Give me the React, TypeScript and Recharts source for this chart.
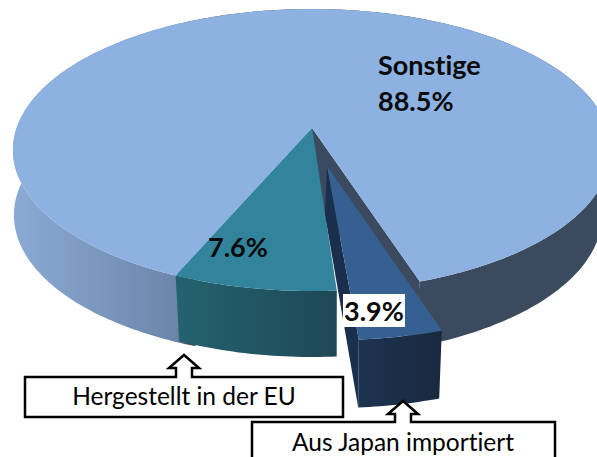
import React from 'react';
import { PieChart, Pie } from 'recharts';

const names = ['Sonstige', 'Hergestellt in der EU', 'Aus Japan importiert'];
const shares = [88.5, 7.6, 3.9];
const sliceLabels = ['88.5%', '7.6%', '3.9%'];

const data = names.map((name, i) => ({ name, value: shares[i] }));

// ellipse of the top and bottom face, with the perspective that pushes the apex back
const PERSPECTIVE = 0.156;
const TOP = { ax: 312, ay: 128, bx: 295.4, by: 137.6 };
const BOTTOM = { ax: 310, ay: 193, bx: 288.5, by: 138.4 };
const BOTTOM_WIDE = { ax: 308, ay: 193, bx: 290.5, by: 138.4 };

type Ring = typeof TOP;

const project = (deg: number, ring: Ring, dx = 0, dy = 0): [number, number] => {
  const rad = (deg * Math.PI) / 180;
  const c = Math.cos(rad);
  const s = -Math.sin(rad);
  const den = 1 - PERSPECTIVE * s;
  return [ring.ax + dx + (ring.bx * c) / den, ring.ay + dy + (ring.by * s) / den];
};

const arc = (from: number, to: number, ring: Ring, dx = 0, dy = 0) => {
  const pts: [number, number][] = [];
  const steps = Math.max(2, Math.ceil(Math.abs(to - from)));
  for (let i = 0; i <= steps; i++) {
    pts.push(project(from + ((to - from) * i) / steps, ring, dx, dy));
  }
  return pts;
};

const toPath = (pts: [number, number][]) =>
  'M' + pts.map(p => `${p[0].toFixed(1)},${p[1].toFixed(1)}`).join('L') + 'Z';

const Slice3D = (props: any) => {
  const { startAngle, endAngle, name } = props;
  if (name === 'Sonstige') {
    const rimTop = arc(startAngle, endAngle, TOP);
    // the wall runs a little under the teal slice so no gap shows at the joint
    const rimBottom = arc(endAngle + 4, startAngle, BOTTOM_WIDE);
    const cutTop = project(startAngle, TOP);
    const cutBottom = project(startAngle, BOTTOM);
    return (
      <g>
        <path d={toPath([...rimTop, project(endAngle + 4, TOP), ...rimBottom])} fill="url(#sideBig)" />
        <path d={toPath([[TOP.ax, TOP.ay], cutTop, cutBottom, [BOTTOM.ax, BOTTOM.ay]])} fill="#3b4a5e" />
        <path d={toPath([[TOP.ax, TOP.ay], ...rimTop])} fill="#8db1e1" />
      </g>
    );
  }
  if (name === 'Hergestellt in der EU') {
    const rimTop = arc(startAngle, endAngle, TOP);
    const rimBottom = arc(endAngle, startAngle, BOTTOM, 2.5, 0);
    return (
      <g>
        <path d={toPath([...rimTop, ...rimBottom])} fill="url(#sideTeal)" />
        <path d={toPath([[TOP.ax, TOP.ay], ...rimTop])} fill="#31849b" />
      </g>
    );
  }
  // exploded slice
  const rimTop = arc(startAngle, endAngle, TOP, 22, 49);
  const rimBottom = arc(endAngle, startAngle, BOTTOM, 24, 51);
  const first = rimTop[0];
  const firstBottom = rimBottom[rimBottom.length - 1];
  return (
    <g>
      <path d={toPath([[327, 166], first, firstBottom, [325, 215]])} fill="#1a2f4d" />
      <path d={toPath([...rimTop, ...rimBottom])} fill="url(#sideBlue)" />
      <path d={toPath([[327, 166], ...rimTop])} fill="#376092" />
    </g>
  );
};

const FONT = 'Lato, "Open Sans", sans-serif';

const SliceLabel = (props: any) => {
  const { index } = props;
  const style = { fontFamily: FONT, fontSize: 27, fontWeight: 700, fill: '#0a0a0a', fontVariantLigatures: 'none' };
  if (index === 0) {
    return (
      <g>
        <text x={378} y={75} style={style}>{names[0]}</text>
        <text x={378} y={111} style={style}>{sliceLabels[0]}</text>
      </g>
    );
  }
  if (index === 1) {
    return <text x={208} y={257} style={style}>{sliceLabels[1]}</text>;
  }
  return (
    <g>
      <rect x={343} y={294} width={62} height={33} fill="#fff" />
      <text x={344} y={320.5} style={style}>{sliceLabels[2]}</text>
    </g>
  );
};

const arrowBox = (left: number, right: number, top: number, bottom: number, tipX: number, tipY: number) => {
  const headY = tipY + 13;
  return `M${left},${top}L${tipX - 8},${top}L${tipX - 8},${headY}L${tipX - 15},${headY}L${tipX},${tipY}L${tipX + 15},${headY}L${tipX + 8},${headY}L${tipX + 8},${top}L${right},${top}L${right},${bottom}L${left},${bottom}Z`;
};

const calloutStyle = { fontFamily: FONT, fontSize: 24.5, fill: '#000', fontVariantLigatures: 'none' };

export default function App() {
  return (
    <div style={{ position: 'absolute', left: 0, top: 0, width: 597, height: 457, overflow: 'hidden', background: '#fff' }}>
      <PieChart width={597} height={457} margin={{ top: 0, right: 0, bottom: 0, left: 0 }}>
        <defs>
          <linearGradient id="sideBig" gradientUnits="userSpaceOnUse" x1="13" y1="0" x2="597" y2="0">
            <stop offset="0" stopColor="#8aaad4" />
            <stop offset="0.28" stopColor="#6c86aa" />
            <stop offset="0.3" stopColor="#3b4a5e" />
            <stop offset="1" stopColor="#3b4a5e" />
          </linearGradient>
          <linearGradient id="sideTeal" gradientUnits="userSpaceOnUse" x1="177" y1="0" x2="337" y2="0">
            <stop offset="0" stopColor="#24626f" />
            <stop offset="1" stopColor="#1e4856" />
          </linearGradient>
          <linearGradient id="sideBlue" gradientUnits="userSpaceOnUse" x1="357" y1="0" x2="444" y2="0">
            <stop offset="0" stopColor="#1c3350" />
            <stop offset="1" stopColor="#19293f" />
          </linearGradient>
        </defs>
        <Pie
          data={data}
          dataKey="value"
          nameKey="name"
          cx={312}
          cy={128}
          outerRadius={140}
          startAngle={-71.9}
          endAngle={288.1}
          stroke="none"
          shape={Slice3D}
          label={SliceLabel}
          labelLine={false}
          isAnimationActive={false}
        />
      </PieChart>
      <svg width={597} height={457} style={{ position: 'absolute', left: 0, top: 0 }}>
        <path d={arrowBox(25, 343, 377, 417, 184, 355)} fill="#fff" stroke="#000" strokeWidth={2.5} strokeLinejoin="miter" />
        <path d={arrowBox(252, 555, 422, 470, 403, 401)} fill="#fff" stroke="#000" strokeWidth={2.5} strokeLinejoin="miter" />
        <text x={184} y={405} textAnchor="middle" style={calloutStyle}>{names[1]}</text>
        <text x={403} y={451} textAnchor="middle" style={calloutStyle}>{names[2]}</text>
      </svg>
    </div>
  );
}
